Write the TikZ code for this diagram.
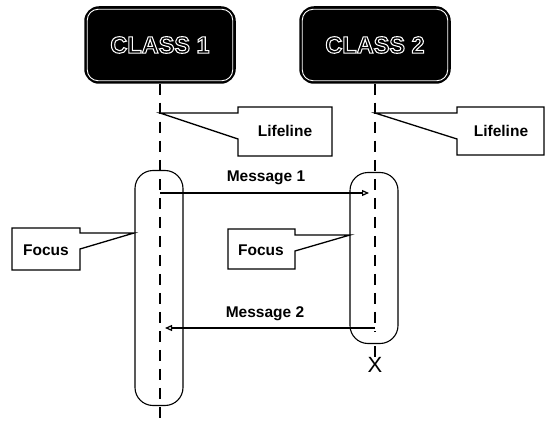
\documentclass[tikz,border=0pt]{standalone}
\usepackage{fontspec}
\setmainfont{Liberation Sans}
\newfontface\classfont[FakeBold=4.5]{Liberation Sans Bold}
\usetikzlibrary{arrows.meta,calc}
\begin{document}
\begin{tikzpicture}[x=1pt,y=-1pt,
  classbox/.style={draw=black, line width=1.5pt, fill=black, rounded corners=14pt,
    minimum width=150pt, minimum height=76pt, inner sep=0pt},
  classtext/.style={font=\fontsize{23.5}{26}\classfont, inner sep=0pt},
  lifeline/.style={line width=2pt, dash pattern=on 11pt off 8pt},
  focusbar/.style={draw, line width=1.1pt, rounded corners=18pt, minimum width=48pt, inner sep=0pt},
  callout/.style={draw, line width=1.3pt, fill=white, line join=miter},
  lbl/.style={font=\fontsize{15.5}{17}\selectfont\bfseries, inner sep=0pt},
  msg/.style={line width=1.2pt, -{Triangle[open,length=7pt,width=6pt]}},
]
\useasboundingbox (0,0) rectangle (546,425);

% class heads
\node[classbox] (c1) at (160,45) {};
\node[classbox] (c2) at (375,45) {};
\draw[white, line width=0.9pt, rounded corners=11pt]
  ($(c1.north west)+(3,3)$) rectangle ($(c1.south east)+(-3,-3)$);
\draw[white, line width=0.9pt, rounded corners=11pt]
  ($(c2.north west)+(3,3)$) rectangle ($(c2.south east)+(-3,-3)$);
\node[classtext] (t1) at (c1) {\color{black}\special{pdf:code 1 1 1 RG}CLASS 1};
\node[classtext] (t2) at (c2) {\color{black}\special{pdf:code 1 1 1 RG}CLASS 2};

% end points
\coordinate (l1end) at (160,425);
\coordinate (l2end) at (375,332);
\coordinate (x2top) at (375,346);
\node[font=\fontsize{22}{24}\selectfont, inner sep=0pt] (x2) at (375,365) {X};

% lifelines
\draw[lifeline] (c1.south) -- (l1end);
\draw[lifeline] (c2.south) -- (l2end);
\draw[line width=2pt] (x2top) -- (x2.north);

% focus bars
\node[focusbar, minimum height=235pt] (f1) at (159,288) {};
\node[focusbar, minimum height=171pt] (f2) at (374,258) {};

% messages
\coordinate (m1s) at (160,193);
\coordinate (m1e) at (369,193);
\coordinate (m2s) at (375,328);
\coordinate (m2e) at (165,328);
\draw[msg] (m1s) -- (m1e);
\draw[msg] (m2s) -- (m2e);
\node[lbl] (ml1) at (266,178) {Message 1};
\node[lbl] (ml2) at (265,314) {Message 2};

% lifeline callouts
\draw[callout] (160,113) -- (238,113) -- (238,107) -- (332,107) -- (332,156)
  -- (238,156) -- (238,139) -- cycle;
\node[lbl] (lf1) at (285,131) {Lifeline};
\draw[callout] (375,113) -- (457,113) -- (457,107) -- (544,107) -- (544,155)
  -- (457,155) -- (457,139) -- cycle;
\node[lbl] (lf2) at (501,131) {Lifeline};

% focus callouts
\draw[callout] (12,228) -- (80,228) -- (80,233) -- (134,233) -- (80,249)
  -- (80,270) -- (12,270) -- cycle;
\node[lbl] (fc1) at (46,250) {Focus};
\draw[callout] (228,229) -- (295,229) -- (295,235) -- (350,235) -- (295,251)
  -- (295,269) -- (228,269) -- cycle;
\node[lbl] (fc2) at (261,250) {Focus};
\end{tikzpicture}
\end{document}
